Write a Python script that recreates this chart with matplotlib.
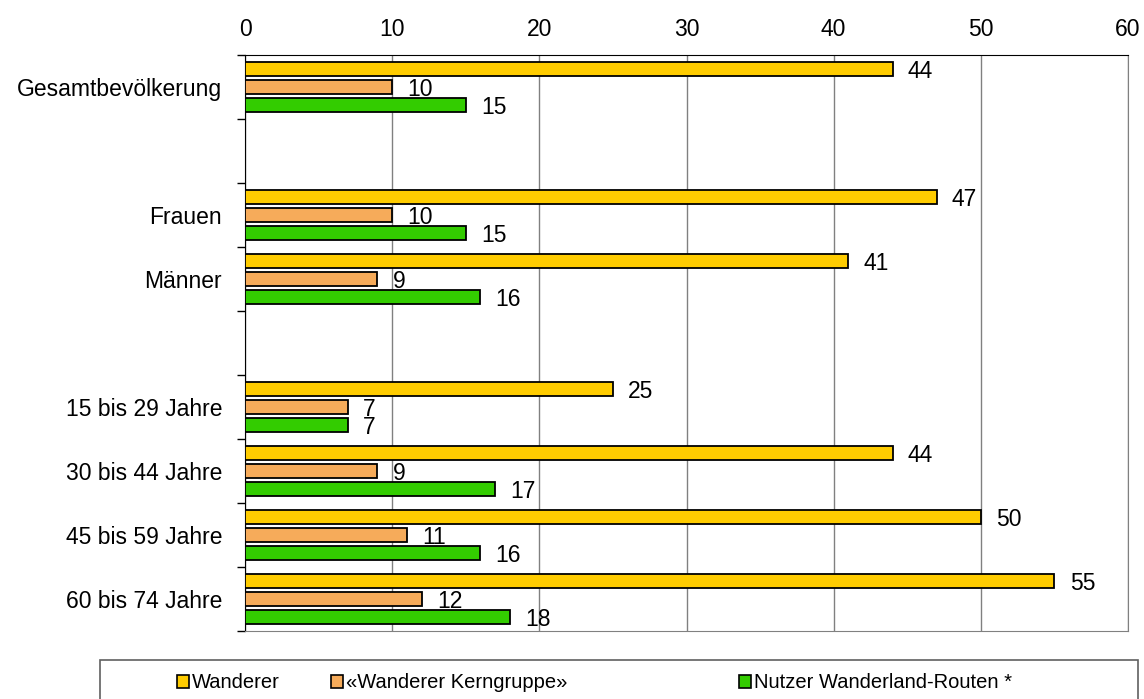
import numpy as np
import matplotlib
matplotlib.use("Agg")
import matplotlib.pyplot as plt
from matplotlib.patches import Rectangle, Patch

plt.rcParams['font.family'] = ['Liberation Sans', 'DejaVu Sans']

categories = ["Gesamtbevölkerung", "", "Frauen", "Männer", "",
              "15 bis 29 Jahre", "30 bis 44 Jahre", "45 bis 59 Jahre", "60 bis 74 Jahre"]
wanderer = [44, np.nan, 47, 41, np.nan, 25, 44, 50, 55]
kerngruppe = [10, np.nan, 10, 9, np.nan, 7, 9, 11, 12]
nutzer = [15, np.nan, 15, 16, np.nan, 7, 17, 16, 18]
series_names = ["Wanderer", "«Wanderer Kerngruppe»", "Nutzer Wanderland-Routen *"]
colors = ["#FFCC00", "#F6AB5A", "#33CC00"]
xticks = [0, 10, 20, 30, 40, 50, 60]

fig = plt.figure(figsize=(11.44, 6.99), dpi=100)
ax = fig.add_axes([245/1144, 1-631/699, (1128-245)/1144, (631-55)/699])

y = np.arange(len(categories))
offsets = [-0.28, 0.0, 0.28]
h = 0.22
for vals, off, col in zip([wanderer, kerngruppe, nutzer], offsets, colors):
    v = np.array(vals, dtype=float)
    m = ~np.isnan(v)
    ax.barh(y[m] + off, v[m], height=h, color=col, edgecolor="black", linewidth=1.3, zorder=3)
    for yi, vi in zip(y[m] + off, v[m]):
        ax.annotate(f"{int(vi)}", (vi, yi), xytext=(11, -1.5), textcoords="offset points",
                    ha="left", va="center", fontsize=16.5, color="black", zorder=4)

ax.set_xlim(0, 60)
ax.set_ylim(len(categories) - 0.5, -0.5)
ax.set_xticks(xticks)
ax.xaxis.tick_top()
ax.tick_params(axis="x", which="major", length=0, labelsize=16.5, pad=10)
ax.set_xticks([0], minor=True)
ax.tick_params(axis="x", which="minor", length=6, width=1, color="black", top=True, bottom=False)
ax.set_yticks(y)
ax.set_yticklabels(categories)
ax.set_yticks(np.arange(len(categories) + 1) - 0.5, minor=True)
ax.tick_params(axis="y", which="major", length=0, labelsize=16.5, pad=16.5)
ax.tick_params(axis="y", which="minor", length=6, width=1, color="black")
ax.grid(axis="x", which="major", color="#808080", linewidth=1, zorder=0)
ax.set_axisbelow(True)
for s in ["right", "bottom"]:
    ax.spines[s].set_color("#808080")
for s in ["left", "top"]:
    ax.spines[s].set_color("black")

# legend frame
fig.patches.append(Rectangle((100/1144, -0.05), 1038/1144, 0.05 + 1 - 660/699,
                             transform=fig.transFigure, facecolor="white",
                             edgecolor="#606060", linewidth=1.2))
xpos = [177/1144, 331/1144, 739/1144]
for name, col, xp in zip(series_names, colors, xpos):
    fig.legend(handles=[Patch(facecolor=col, edgecolor="black", linewidth=1.2)], labels=[name],
               loc="center left", bbox_to_anchor=(xp, 1 - 683/699), frameon=False,
               fontsize=14.5, handlelength=0.6, handleheight=0.6, handletextpad=0.15,
               borderpad=0, borderaxespad=0)

fig.savefig("out.png", dpi=100)
